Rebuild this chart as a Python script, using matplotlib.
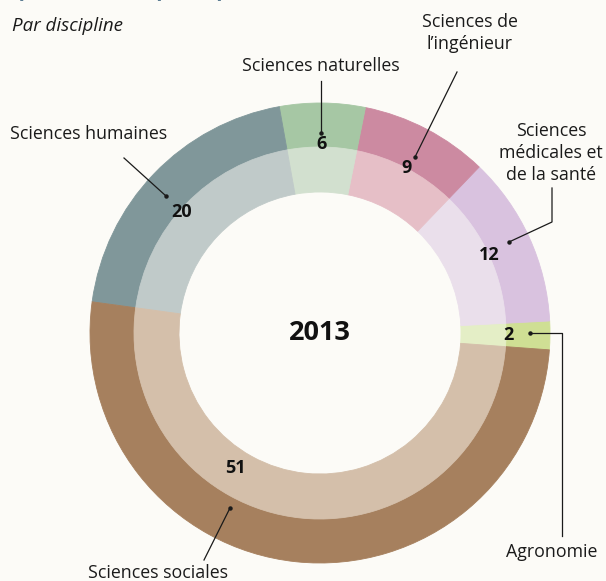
import numpy as np
import matplotlib
matplotlib.use('Agg')
import matplotlib.pyplot as plt

plt.rcParams['font.family'] = ['Open Sans', 'DejaVu Sans']

# data (%), in the order drawn counter-clockwise
disciplines = ['Agronomie', 'Sciences médicales et de la santé', "Sciences de l'ingénieur",
               'Sciences naturelles', 'Sciences humaines', 'Sciences sociales']
valeurs = [2, 12, 9, 6, 20, 51]
couleurs_ext = ['#cfdf94', '#d9c2df', '#cc8aa1', '#a6c7a4', '#80979a', '#a6805e']
couleurs_int = ['#e4eec6', '#eadfeb', '#e6bfc7', '#d2e0cf', '#c0cac9', '#d4bfaa']
annee = '2013'

bg = '#fcfbf7'
W, H = 606, 581
cx, cy, R = 320, 333, 230

fig = plt.figure(figsize=(W / 100, H / 100), dpi=100, facecolor=bg)

# pie axes: square box centred on (cx, cy) px
ax = fig.add_axes([(cx - R) / W, (H - cy - R) / H, 2 * R / W, 2 * R / H])
ax.set_facecolor('none')
start = -4.2
r_mid = 186 / R
r_hole = 141 / R
ax.pie(valeurs, colors=couleurs_ext, radius=1, startangle=start, counterclock=True,
       wedgeprops=dict(width=1 - r_mid, linewidth=0.6))
ax.pie(valeurs, colors=couleurs_int, radius=r_mid, startangle=start, counterclock=True,
       wedgeprops=dict(width=r_mid - r_hole, linewidth=0.6))
for w, c in zip(ax.patches, couleurs_ext + couleurs_int):
    w.set_edgecolor(c)
ax.set_xlim(-1, 1)
ax.set_ylim(-1, 1)
ax.axis('off')

# wedge middle angles from the data
bornes = start + 3.6 * np.concatenate([[0], np.cumsum(valeurs)])
milieux = (bornes[:-1] + bornes[1:]) / 2


def polaire(ang, r):
    a = np.radians(ang)
    return r * np.cos(a), r * np.sin(a)


def px(x, y):
    # pixel position -> pie data coordinates
    return (x - cx) / R, (cy - y) / R


ax.text(0, 0, annee, ha='center', va='center', fontsize=19.5, fontweight='bold', color='#111111')

# value labels: angle override for the big slice
angles_val = list(milieux)
angles_val[4] = 139
angles_val[5] = 238
rayons_val = [0.82, 0.81, 0.81, 0.82, 0.80, 0.69]
for v, a, r in zip(valeurs, angles_val, rayons_val):
    x, y = polaire(a, r)
    ax.text(x, y, str(v), ha='center', va='center', fontsize=13, fontweight='bold',
            color='#111111')

# leader lines (pixel layout) with a dot at the slice end
lw = 0.9
lignes = [
    [(321, 81), (321, 133)],                    # naturelles
    [(457, 72), (415, 157)],                    # ingénieur
    [(552, 188), (552, 222), (509, 242)],       # médicales
    [(562, 536), (562, 333), (530, 333)],       # agronomie
    [(124, 158), (166, 196)],                   # humaines
    [(204, 560), (230, 508)],                   # sociales
]
for pts in lignes:
    xs, ys = zip(*[px(*p) for p in pts])
    ax.plot(xs, ys, color='#1a1a1a', lw=lw, clip_on=False)
    ax.plot(xs[-1], ys[-1], 'o', color='#1a1a1a', ms=2.2, clip_on=False)

textes = [
    ('Sciences naturelles', 321, 66),
    ("Sciences de\nl\u2019ingénieur", 470, 33),
    ('Sciences\nmédicales et\nde la santé', 551, 153),
    ('Sciences humaines', 89, 134),
    ('Agronomie', 552, 552),
    ('Sciences sociales', 158, 573),
]
for t, x, y in textes:
    ax.text(*px(x, y), t, ha='center', va='center', fontsize=12.8, color='#1a1a1a',
            linespacing=1.3, clip_on=False)

# header
fig.text(12 / W, 1 - 26 / H, 'Par discipline', ha='left', va='center', fontsize=13.5,
         style='italic', color='#1a1a1a')
fig.text(346 / W, 1 + 4 / H, 'Personnel par domaine principal, 2013 (%)', ha='right',
         va='baseline', fontsize=15, fontweight='bold', color='#5d7d93')

fig.savefig('out.png', dpi=100, facecolor=bg)
